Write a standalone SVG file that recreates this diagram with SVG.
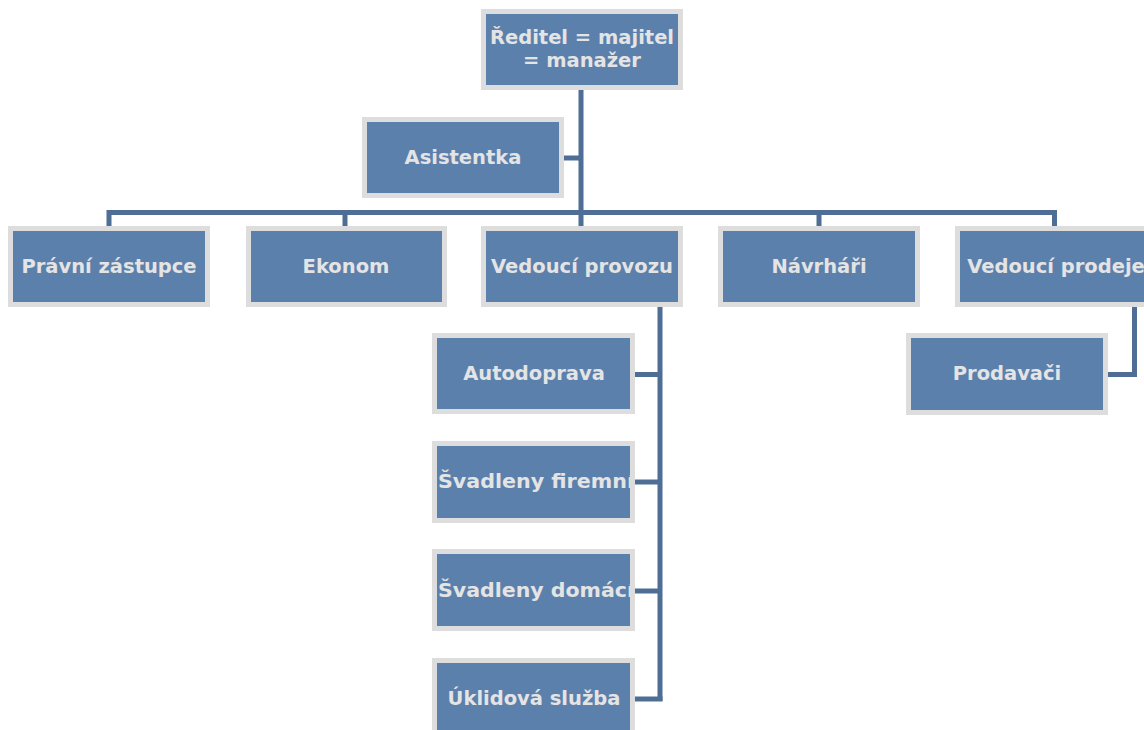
<svg xmlns="http://www.w3.org/2000/svg" width="1144" height="730" viewBox="0 0 1144 730">
  <style>
    .box { fill: #5b80ac; stroke: #dddddd; stroke-width: 5; }
    .lbl { font-family: "DejaVu Sans", Verdana, sans-serif; font-weight: bold; font-size: 19.5px; fill: #e4e4e4; text-anchor: middle; }
    .conn { fill: none; stroke: #4f6e95; stroke-width: 5; stroke-linejoin: miter; stroke-linecap: butt; }
  </style>
  <defs>
    <clipPath id="clipF"><rect x="437" y="446" width="193" height="72"/></clipPath>
    <clipPath id="clipD"><rect x="437" y="554" width="193" height="72"/></clipPath>
  </defs>
  <rect x="0" y="0" width="1144" height="730" fill="#ffffff"/>

  <g id="connectors">
    <path class="conn" d="M581,88 V228"/>
    <path class="conn" d="M563,158 H581"/>
    <path class="conn" d="M109,228 V212.5 H1054.5 V228"/>
    <path class="conn" d="M345,212 V228"/>
    <path class="conn" d="M819,212 V228"/>
    <path class="conn" d="M660,305 V701"/>
    <path class="conn" d="M634,374.5 H660"/>
    <path class="conn" d="M634,482 H660"/>
    <path class="conn" d="M634,591 H660"/>
    <path class="conn" d="M634,699 H662.5"/>
    <path class="conn" d="M1134.5,305 V374.5 H1107"/>
  </g>

  <g id="node-reditel">
    <rect class="box" x="483.5" y="11.5" width="197" height="76"/>
    <text class="lbl" x="582" y="44">Ředitel = majitel</text>
    <text class="lbl" x="582" y="67">= manažer</text>
  </g>
  <g id="node-asistentka">
    <rect class="box" x="364.5" y="119.5" width="197" height="76"/>
    <text class="lbl" x="463" y="164">Asistentka</text>
  </g>
  <g id="node-pravni">
    <rect class="box" x="10.5" y="228.5" width="197" height="76"/>
    <text class="lbl" x="109" y="273">Právní zástupce</text>
  </g>
  <g id="node-ekonom">
    <rect class="box" x="248.5" y="228.5" width="196" height="76"/>
    <text class="lbl" x="346" y="273">Ekonom</text>
  </g>
  <g id="node-vedouci-provozu">
    <rect class="box" x="483.5" y="228.5" width="197" height="76"/>
    <text class="lbl" x="582" y="273">Vedoucí provozu</text>
  </g>
  <g id="node-navrhari">
    <rect class="box" x="720.5" y="228.5" width="197" height="76"/>
    <text class="lbl" x="819" y="273">Návrháři</text>
  </g>
  <g id="node-vedouci-prodeje">
    <rect class="box" x="957.5" y="228.5" width="197" height="76"/>
    <text class="lbl" x="1056" y="273">Vedoucí prodeje</text>
  </g>
  <g id="node-autodoprava">
    <rect class="box" x="434.5" y="335.5" width="198" height="76"/>
    <text class="lbl" x="534" y="380">Autodoprava</text>
  </g>
  <g id="node-svadleny-firemni">
    <rect class="box" x="434.5" y="443.5" width="198" height="77"/>
    <text class="lbl" x="536" y="488" clip-path="url(#clipF)" textLength="196" lengthAdjust="spacingAndGlyphs">Švadleny firemní</text>
  </g>
  <g id="node-svadleny-domaci">
    <rect class="box" x="434.5" y="551.5" width="198" height="77"/>
    <text class="lbl" x="536" y="597" clip-path="url(#clipD)" textLength="196" lengthAdjust="spacingAndGlyphs">Švadleny domácí</text>
  </g>
  <g id="node-uklidova">
    <rect class="box" x="434.5" y="660.5" width="198" height="77"/>
    <text class="lbl" x="534" y="705">Úklidová služba</text>
  </g>
  <g id="node-prodavaci">
    <rect class="box" x="908.5" y="335.5" width="197" height="77"/>
    <text class="lbl" x="1007" y="380">Prodavači</text>
  </g>
</svg>
